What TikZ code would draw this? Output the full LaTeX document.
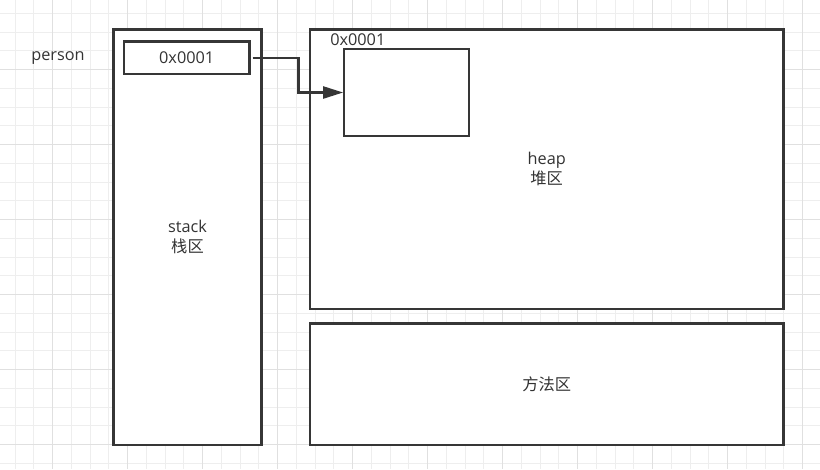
\documentclass[tikz,border=0pt]{standalone}
\usepackage{fontspec}
\setmainfont{Open Sans}
\newfontfamily\cjk{Noto Sans CJK SC}
\usetikzlibrary{arrows.meta}
\definecolor{gridminor}{HTML}{EEEEEE}
\definecolor{gridmajor}{HTML}{E0E0E0}
\definecolor{ink}{HTML}{363636}
\definecolor{txt}{HTML}{333333}
\begin{document}
\begin{tikzpicture}[x=0.75pt,y=-0.75pt,
  box/.style={draw=ink, line width=1.75pt, fill=white, inner sep=0pt},
  lbl/.style={text=txt, font=\fontsize{12.2}{15}\selectfont, align=center, inner sep=0pt},
  conn/.style={draw=ink, line width=1.75pt, -{Triangle[length=15pt,width=9pt]}}
]
\useasboundingbox (0,0) rectangle (820,469);
\fill[white] (0,0) rectangle (820,469);
% grid
\foreach \i in {0,...,42} {\draw[gridminor, line width=0.75pt] ({15.2+18.75*\i},0) -- ++(0,469);}
\foreach \i in {0,...,24} {\draw[gridminor, line width=0.75pt] (0,{13.3+18.75*\i}) -- ++(820,0);}
\foreach \i in {0,...,10} {\draw[gridmajor, line width=0.75pt] ({52.7+75*\i},0) -- ++(0,469);}
\foreach \i in {0,...,5} {\draw[gridmajor, line width=0.75pt] (0,{69.3+75*\i}) -- ++(820,0);}
% boxes
\node[box, minimum width=148*0.75pt, minimum height=415.5*0.75pt] (stack) at (187.5,237.25) {};
\node[box, minimum width=125.3*0.75pt, minimum height=32.7*0.75pt] (ref) at (186.7,57.7) {};
\node[box, minimum width=473.3*0.75pt, minimum height=279.8*0.75pt] (heap) at (546.7,169.4) {};
\node[box, minimum width=473.3*0.75pt, minimum height=121.7*0.75pt] (method) at (546.7,384.2) {};
\node[box, minimum width=125*0.75pt, minimum height=87*0.75pt] (obj) at (406.8,92.5) {};
% labels
\node[lbl] (person) at (58,58) {person};
\node[lbl] (reftext) at (ref.center) {0x0001};
\node[lbl, anchor=west] (objaddr) at (330,40) {0x0001};
\node[lbl] (stacklbl) at (187.5,237) {stack\\{\cjk 栈区}};
\node[lbl] (heaplbl) at (546.7,169) {heap\\{\cjk 堆区}};
\node[lbl] (methodlbl) at (546.7,384) {{\cjk 方法区}};
% connector
\draw[conn] ([xshift=1.5pt]ref.east) -- ++(46,0) |- (obj.west);
\end{tikzpicture}
\end{document}
